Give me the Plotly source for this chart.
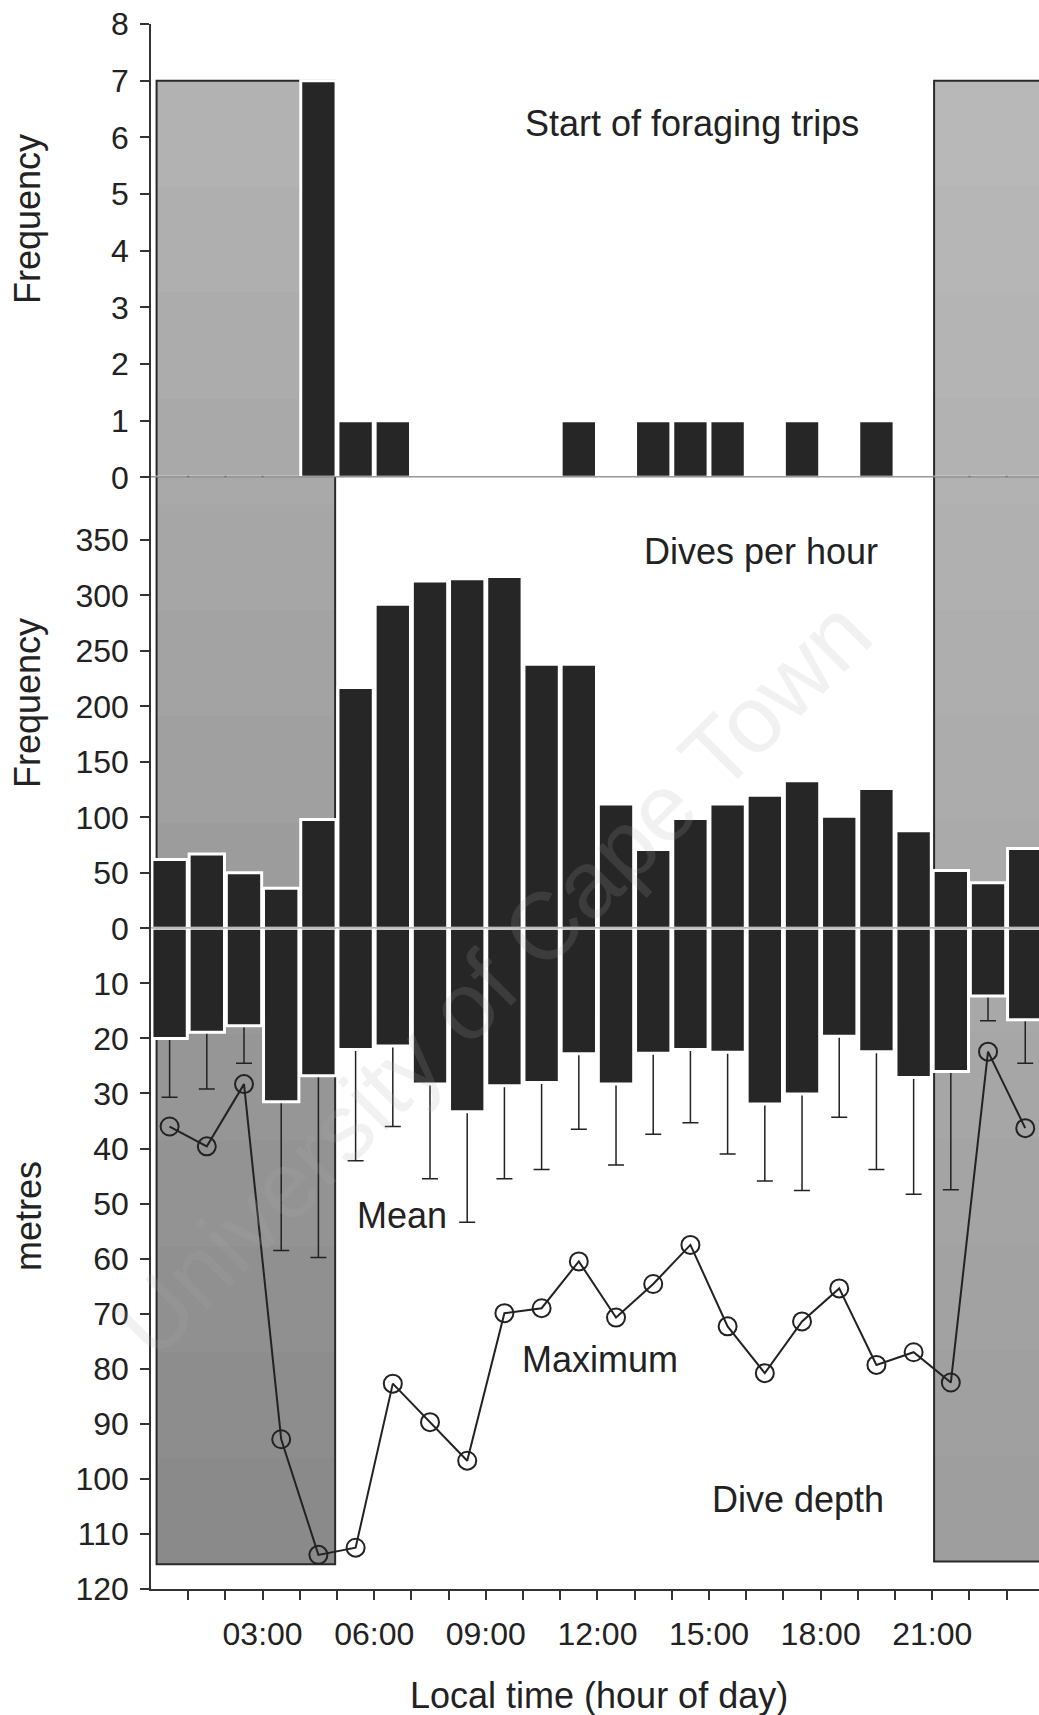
import plotly.graph_objects as go

# ---------------- data ----------------
hours = list(range(24))
hour_centres = [h + 0.5 for h in hours]

trip_starts = [0, 0, 0, 0, 7, 1, 1, 0, 0, 0, 0, 1, 0, 1, 1, 1, 0, 1, 0, 1, 0, 0, 0, 0]

dives_per_hour = [62, 67, 50, 36, 98, 217, 292, 313, 315, 317, 238, 238,
                  112, 71, 99, 112, 120, 133, 101, 126, 88, 52, 41, 72]

mean_depth = [20.0, 18.9, 17.7, 31.5, 26.8, 22.0, 21.4, 28.3, 33.3, 28.6, 28.0, 22.8,
              28.3, 22.7, 22.0, 22.5, 31.9, 30.1, 19.6, 22.4, 27.1, 26.0, 12.3, 16.6]

sd_depth = [10.7, 10.3, 6.8, 27.0, 33.0, 20.2, 14.6, 17.2, 20.1, 16.9, 15.8, 13.7,
            14.7, 14.7, 13.3, 18.5, 14.0, 17.5, 14.7, 21.4, 21.2, 21.5, 4.5, 7.9]

max_depth = [36.0, 39.6, 28.3, 92.8, 113.8, 112.5, 82.7, 89.7, 96.7, 69.9, 69.0, 60.5,
             70.7, 64.6, 57.5, 72.3, 80.8, 71.4, 65.4, 79.3, 77.0, 82.5, 22.4, 36.3]

tick_hours = list(range(1, 24))
tick_labels = ["%02d:00" % h if h % 3 == 0 else "" for h in tick_hours]

freq_ticks = list(range(0, 9))
dive_ticks = list(range(0, 351, 50))
depth_ticks = list(range(10, 121, 10))

# night periods (hours) with their lower depth limit
night_periods = [(0.15, 4.95, 115.5), (21.05, 24.5, 115.0)]
night_top_freq = 7

# ---------------- layout constants ----------------
W, H = 1039, 1715
ML, MR, MT, MB = 151, 0, 24, 126
PH = H - MT - MB
PW = W - ML - MR
X_RANGE = [0, 23.87]

d_top = 1 - (477.3 - MT) / PH      # lower edge of trips panel
d_mid = 1 - (928.3 - MT) / PH      # zero line between dives / depth
Y1_RANGE = [0, 8]
Y2_RANGE = [0, 406.5]
Y3_RANGE = [120, 0]

def py(pix):
    return 1 - (pix - MT) / PH

def px(pix):
    return (pix - ML) / PW

def y1_paper(v):
    return d_top + (v - Y1_RANGE[0]) / (Y1_RANGE[1] - Y1_RANGE[0]) * (1 - d_top)

def y3_paper(v):
    return d_mid * (1 - v / 120.0)

FONT = "Liberation Sans, Arial, sans-serif"
INK = "#222222"
BAR = "#262626"
BW = 0.95

fig = go.Figure()

fig.add_trace(go.Bar(x=hour_centres, y=trip_starts, width=BW, xaxis="x", yaxis="y",
                     marker=dict(color=BAR, line=dict(color="white", width=3)),
                     showlegend=False))
fig.add_trace(go.Bar(x=hour_centres, y=dives_per_hour, width=BW, xaxis="x", yaxis="y2",
                     marker=dict(color=BAR, line=dict(color="white", width=3)),
                     showlegend=False))
# whiskers (SD) drawn underneath the mean-depth bars
fig.add_trace(go.Bar(x=hour_centres, y=mean_depth, width=BW, xaxis="x", yaxis="y3",
                     marker=dict(color="rgba(0,0,0,0)", line=dict(width=0)),
                     error_y=dict(type="data", symmetric=False, array=sd_depth,
                                  arrayminus=[0] * len(sd_depth),
                                  color=INK, thickness=1.5, width=8),
                     showlegend=False))
fig.add_trace(go.Bar(x=hour_centres, y=mean_depth, width=BW, xaxis="x", yaxis="y3",
                     marker=dict(color=BAR, line=dict(color="white", width=3)),
                     showlegend=False))
fig.add_trace(go.Scatter(x=hour_centres, y=max_depth, xaxis="x", yaxis="y3",
                         mode="lines+markers",
                         line=dict(color=INK, width=2),
                         marker=dict(symbol="circle-open", size=18, color=INK,
                                     line=dict(width=2)),
                         showlegend=False))

# ---------------- night shading ----------------
shapes = []
grad = [((178, 178, 178), (138, 138, 138)), ((184, 184, 184), (158, 158, 158))]
NB = 14
for (x0, x1, dbot), (c0, c1) in zip(night_periods, grad):
    ytop = y1_paper(night_top_freq)
    ybot = y3_paper(dbot)
    step = (ytop - ybot) / NB
    for i in range(NB):
        t = i / (NB - 1)
        c = tuple(int(round(a + (b - a) * t)) for a, b in zip(c0, c1))
        ya = ytop - step * i
        yb = max(ybot, ytop - step * (i + 1) - 0.002)
        shapes.append(dict(type="rect", xref="x", yref="paper", x0=x0, x1=x1,
                           y0=yb, y1=ya, fillcolor="rgb(%d,%d,%d)" % c,
                           line=dict(width=0), layer="below"))
    shapes.append(dict(type="rect", xref="x", yref="paper", x0=x0, x1=x1,
                       y0=ybot, y1=ytop, fillcolor="rgba(0,0,0,0)",
                       line=dict(color="#2a2a2a", width=2), layer="below"))

# zero lines
shapes.append(dict(type="line", xref="paper", yref="y", x0=0, x1=1, y0=0, y1=0,
                   line=dict(color="#333333", width=1.5), layer="above"))
shapes.append(dict(type="line", xref="paper", yref="y2", x0=0, x1=1, y0=0, y1=0,
                   line=dict(color="#777777", width=1.5), layer="above"))

# ---------------- annotations ----------------
ann = []
def txt(s, x, y, xref, yref, size=36, angle=0, color=INK):
    ann.append(dict(text=s, x=x, y=y, xref=xref, yref=yref, showarrow=False,
                    xanchor="center", yanchor="middle", textangle=angle,
                    font=dict(family=FONT, size=size, color=color)))

txt("Start of foraging trips", 14.54, 6.25, "x", "y")
txt("Dives per hour", 16.4, 340, "x", "y2")
txt("Mean", 6.75, 52.2, "x", "y3")
txt("Maximum", 12.07, 78.4, "x", "y3")
txt("Dive depth", 17.39, 103.8, "x", "y3")
txt("Frequency", px(28), py(219), "paper", "paper", angle=-90)
txt("Frequency", px(28), py(703), "paper", "paper", angle=-90)
txt("metres", px(28), py(1216), "paper", "paper", angle=-90)
txt("Local time (hour of day)", px(599), py(1695), "paper", "paper")
txt("University of Cape Town", px(492), py(978), "paper", "paper", size=95, angle=-45,
    color="rgba(170,170,170,0.17)")

axis_common = dict(showgrid=False, zeroline=False, showline=True, linecolor="#333333",
                   linewidth=1.5, ticks="outside", ticklen=9, tickwidth=1.5,
                   tickcolor="#333333", tickfont=dict(family=FONT, size=32, color=INK))

fig.update_layout(
    width=W, height=H,
    margin=dict(l=ML, r=MR, t=MT, b=MB, pad=0),
    paper_bgcolor="white", plot_bgcolor="white",
    showlegend=False, barmode="overlay",
    xaxis=dict(range=X_RANGE, anchor="y3", tickmode="array", tickvals=tick_hours,
               ticktext=tick_labels, ticklabelstandoff=7, **axis_common),
    yaxis=dict(domain=[d_top, 1], range=Y1_RANGE, anchor="x", tickmode="array",
               tickvals=freq_ticks, ticklabelstandoff=5, **axis_common),
    yaxis2=dict(domain=[d_mid, d_top], range=Y2_RANGE, anchor="x", tickmode="array",
                tickvals=dive_ticks, ticklabelstandoff=5, **axis_common),
    yaxis3=dict(domain=[0, d_mid], range=Y3_RANGE, anchor="x", tickmode="array",
                tickvals=depth_ticks, ticklabelstandoff=5, **axis_common),
    shapes=shapes,
    annotations=ann,
)

fig.write_html("out.html")
